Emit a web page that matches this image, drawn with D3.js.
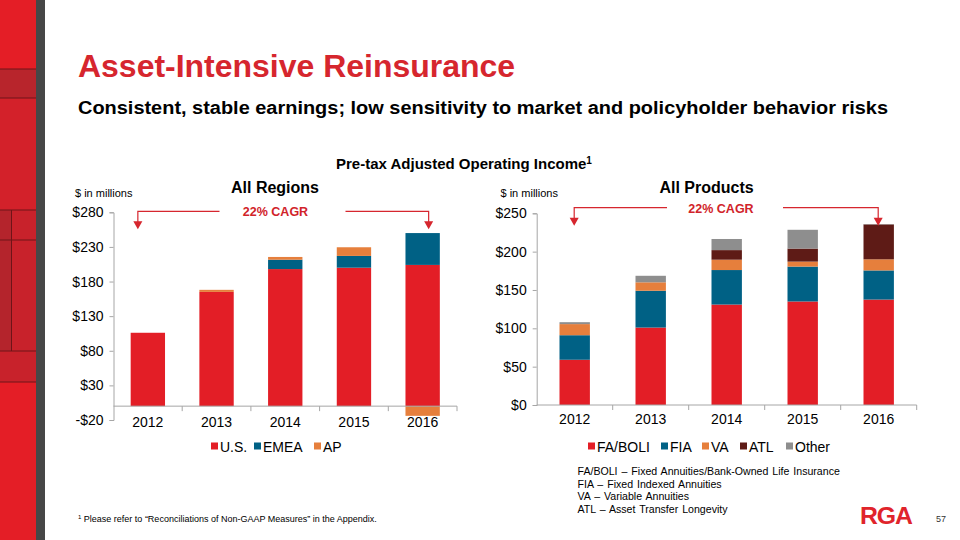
<!DOCTYPE html>
<html><head><meta charset="utf-8">
<script src="https://cdn.jsdelivr.net/npm/d3@7"></script>
<style>
body{margin:0;background:#fff;}
svg{display:block;font-family:"Liberation Sans",Arial,sans-serif;}
</style></head><body>
<svg id="c" width="960" height="540"></svg>
<script>
// ---- data ----
const years = ["2012","2013","2014","2015","2016"];
// All Regions
const regionKeys = ["U.S.","EMEA","AP"];
const usVals   = [106, 165, 198, 200, 204];
const emeaVals = [0, 0, 13.5, 17, 46];
const apVals   = [0, 3, 4, 12.5, -14];
const regionTicks = [-20, 30, 80, 130, 180, 230, 280];
// All Products
const productKeys = ["FA/BOLI","FIA","VA","ATL","Other"];
const faVals    = [59, 101, 131, 135, 137.5];
const fiaVals   = [32, 48, 45, 45.5, 38];
const vaVals    = [14.5, 11, 13.5, 6.5, 14.5];
const atlVals   = [0, 0, 12.5, 17, 45.5];
const otherVals = [2.5, 8.5, 14.5, 24.5, 0.5];
const productTicks = [0, 50, 100, 150, 200, 250];
const abbreviations = [
  "FA/BOLI \u2013 Fixed Annuities/Bank-Owned Life Insurance",
  "FIA \u2013 Fixed Indexed Annuities",
  "VA \u2013 Variable Annuities",
  "ATL \u2013 Asset Transfer Longevity"
];

const RED="#E31E26", TEAL="#006185", ORANGE="#E67F3C", MAROON="#5E1B16", GREY="#8E8E8E";
const AXIS="#A6A6A6";

const svg = d3.select("#c");

// ---- left decorative strip ----
const strip = svg.append("g");
strip.append("rect").attr("x",0).attr("y",0).attr("width",36).attr("height",540).attr("fill","#E41E26");
strip.append("rect").attr("x",0).attr("y",69).attr("width",36).attr("height",29).attr("fill","#B8252C");
strip.append("rect").attr("x",0).attr("y",98).attr("width",36).attr("height",112).attr("fill","#D3212A");
strip.append("rect").attr("x",0).attr("y",210).attr("width",36).attr("height",172).attr("fill","#C8222B");
strip.append("rect").attr("x",0).attr("y",210).attr("width",11).attr("height",141).attr("fill","#B4242C");
strip.append("rect").attr("x",36).attr("y",0).attr("width",9).attr("height",540).attr("fill","#474747");
[69,98,210,240,351,382].forEach(y=>strip.append("line").attr("x1",0).attr("x2",36).attr("y1",y).attr("y2",y).attr("stroke","#6E1418").attr("stroke-width",1));
strip.append("line").attr("x1",11.5).attr("x2",11.5).attr("y1",210).attr("y2",351).attr("stroke","#6E1418");

// ---- titles ----
svg.append("text").attr("x",78).attr("y",77).attr("font-size",31).attr("font-weight","bold")
  .attr("fill","#D6262E").attr("textLength",437).attr("lengthAdjust","spacingAndGlyphs")
  .text("Asset-Intensive Reinsurance");
svg.append("text").attr("x",78).attr("y",114).attr("font-size",18).attr("font-weight","bold")
  .attr("fill","#000").attr("textLength",810).attr("lengthAdjust","spacingAndGlyphs")
  .text("Consistent, stable earnings; low sensitivity to market and policyholder behavior risks");
const pt = svg.append("text").attr("x",336).attr("y",169).attr("font-size",15).attr("font-weight","bold").attr("fill","#000");
pt.append("tspan").text("Pre-tax Adjusted Operating Income");
pt.append("tspan").attr("font-size",10).attr("dy",-5).text("1");

// ---- helper to draw a chart ----
function drawChart(opt){
  const g = svg.append("g");
  const x = d3.scaleBand().domain(years).range([opt.x0,opt.x1]).paddingInner(opt.pi).paddingOuter(opt.po);
  const y = d3.scaleLinear().domain(opt.domain).range([opt.yBottom,opt.yTop]);
  const rows = years.map((yr,i)=>{const r={year:yr}; opt.keys.forEach((k,j)=>r[k]=opt.series[j][i]); return r;});
  const stack = d3.stack().keys(opt.keys).offset(d3.stackOffsetDiverging)(rows);
  stack.forEach((layer,j)=>{
    g.append("g").attr("fill",opt.colors[j]).selectAll("rect").data(layer.filter(d=>d[1]!==d[0])).join("rect")
      .attr("x",d=>x(d.data.year)).attr("width",x.bandwidth())
      .attr("y",d=>y(Math.max(d[0],d[1]))).attr("height",d=>Math.abs(y(d[0])-y(d[1])));
  });
  // y axis
  const ya = g.append("g").attr("transform",`translate(${opt.x0},0)`)
    .call(d3.axisLeft(y).tickValues(opt.ticks).tickSize(4).tickPadding(6)
      .tickFormat(d=> d<0 ? "-$"+Math.abs(d) : "$"+d));
  ya.select(".domain").attr("stroke",AXIS);
  ya.selectAll(".tick line").attr("stroke",AXIS);
  ya.selectAll("text").attr("font-size",14).attr("fill","#000").attr("font-family","Liberation Sans, Arial, sans-serif");
  // x baseline at zero
  const y0 = y(0);
  g.append("line").attr("x1",opt.x0).attr("x2",opt.x1).attr("y1",y0).attr("y2",y0).attr("stroke",AXIS);
  const step = x.step();
  const bounds = d3.range(1,6).map(i=>x(years[0]) + x.bandwidth()/2 - step/2 + i*step);
  bounds.forEach(bx=>g.append("line").attr("x1",bx).attr("x2",bx).attr("y1",y0).attr("y2",y0+5).attr("stroke",AXIS));
  // x labels
  g.append("g").selectAll("text").data(years).join("text")
    .attr("x",d=>x(d)+x.bandwidth()/2).attr("y",opt.labelY).attr("text-anchor","middle")
    .attr("font-size",14).attr("fill","#000").text(d=>d);
  // header
  g.append("text").attr("x",opt.titleX).attr("y",193).attr("text-anchor","middle").attr("font-size",16).attr("font-weight","bold").text(opt.title);
  g.append("text").attr("x",opt.unitX).attr("y",197).attr("font-size",11).attr("fill","#000").text("$ in millions");
  g.append("text").attr("x",opt.cagrX).attr("y",opt.cagrY).attr("text-anchor","middle").attr("font-size",12.5).attr("font-weight","bold").attr("fill","#D1232A").text("22% CAGR");
  // arrows
  const ay = opt.arrowY;
  const a1 = x(years[0])+x.bandwidth()/2 - opt.arrowOff, a2 = x(years[4])+x.bandwidth()/2 + opt.arrowOff2;
  const ac="#D6262E";
  g.append("path").attr("d",`M${opt.cagrX-opt.gap},${ay}H${a1}V${ay+11}`).attr("fill","none").attr("stroke",ac).attr("stroke-width",1.2);
  g.append("path").attr("d",`M${a1-4.5},${ay+10}L${a1+4.5},${ay+10}L${a1},${ay+18}Z`).attr("fill",ac);
  g.append("path").attr("d",`M${opt.cagrX+opt.gap2},${ay}H${a2}V${ay+11}`).attr("fill","none").attr("stroke",ac).attr("stroke-width",1.2);
  g.append("path").attr("d",`M${a2-4.5},${ay+10}L${a2+4.5},${ay+10}L${a2},${ay+18}Z`).attr("fill",ac);
  // legend
  const lg = g.append("g");
  opt.keys.forEach((k,j)=>{
    const lx = opt.legendX[j];
    lg.append("rect").attr("x",lx).attr("y",opt.legendY-9).attr("width",7).attr("height",7).attr("fill",opt.colors[j]);
    lg.append("text").attr("x",lx+9).attr("y",opt.legendY).attr("font-size",14).attr("fill","#000").text(k);
  });
}

drawChart({
  keys:regionKeys, series:[usVals,emeaVals,apVals], colors:[RED,TEAL,ORANGE],
  x0:113.5, x1:457, pi:0.5, po:0.25, domain:[-20,280], yBottom:420, yTop:212.3,
  ticks:regionTicks, labelY:427, title:"All Regions", titleX:275, unitX:75,
  cagrX:275.5, cagrY:215.5, arrowY:211.3, arrowOff:10, arrowOff2:6, gap:56, gap2:70,
  legendX:[211,254,314], legendY:451.5
});
drawChart({
  keys:productKeys, series:[faVals,fiaVals,vaVals,atlVals,otherVals], colors:[RED,TEAL,ORANGE,MAROON,GREY],
  x0:536.7, x1:916.7, pi:0.6, po:0.3, domain:[0,250], yBottom:405, yTop:213.3,
  ticks:productTicks, labelY:423.5, title:"All Products", titleX:706.5, unitX:500.5,
  cagrX:721, cagrY:213, arrowY:207.7, arrowOff:0.5, arrowOff2:-0.5, gap:54, gap2:62,
  legendX:[588,661,702,740,786], legendY:451.5
});

// ---- abbreviations ----
svg.append("g").selectAll("text").data(abbreviations).join("text")
  .attr("x",577.5).attr("y",(d,i)=>475+i*12.6).attr("font-size",10.6).attr("fill","#000")
  .attr("word-spacing",1).text(d=>d);

// ---- footnote ----
const fn = svg.append("text").attr("x",78).attr("y",522).attr("font-size",9).attr("fill","#000");
fn.append("tspan").attr("font-size",6).attr("dy",-3).text("1");
fn.append("tspan").attr("dy",3).text(" Please refer to \u201CReconciliations of Non-GAAP Measures\u201D in the Appendix.");

// ---- logo & page number ----
svg.append("text").attr("x",860).attr("y",523.5).attr("font-size",24).attr("font-weight","bold")
  .attr("fill","#E0242B").attr("textLength",52).attr("lengthAdjust","spacingAndGlyphs").attr("letter-spacing",-1).text("RGA");
svg.append("text").attr("x",936).attr("y",522).attr("font-size",9).attr("fill","#333").text("57");
</script>
</body></html>
